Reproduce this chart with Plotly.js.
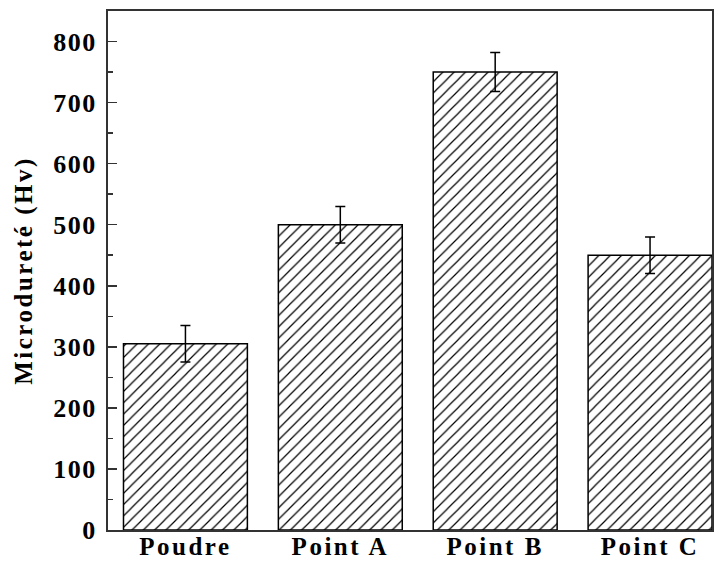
<!DOCTYPE html>
<html>
<head>
<meta charset="utf-8">
<script src="https://cdn.plot.ly/plotly-3.0.1.min.js"></script>
<style>
html,body{margin:0;padding:0;background:#fff;}
#chart .xtick text { letter-spacing: 2.5px; }
#chart .ytick text { letter-spacing: 1.5px; }
#chart .ytitle { letter-spacing: 2.5px; }
</style>
</head>
<body>
<div id="chart" style="width:715px;height:561px;"></div>
<script>
const categories = ["Poudre", "Point A", "Point B", "Point C"];
const hardness = [305, 500, 750, 450];
const hardnessErr = [30, 30, 32, 30];
const yTickVals = [0, 100, 200, 300, 400, 500, 600, 700, 800];
const yTitle = "Microdureté (Hv)";

const fontFamily = "'Liberation Serif', 'Times New Roman', serif";

const trace = {
  type: "bar",
  x: categories,
  y: hardness,
  width: 0.8,
  marker: {
    color: "#ffffff",
    line: { color: "#000000", width: 1.5 },
    pattern: { shape: "/", size: 8, solidity: 0.15, fgcolor: "#000000", bgcolor: "#ffffff" }
  },
  error_y: { type: "data", array: hardnessErr, visible: true, color: "#000000", thickness: 1.5, width: 5 },
  hoverinfo: "x+y"
};

const layout = {
  width: 715,
  height: 561,
  margin: { l: 108, r: 3, t: 11, b: 31, pad: 0 },
  paper_bgcolor: "#ffffff",
  plot_bgcolor: "#ffffff",
  showlegend: false,
  bargap: 0.2,
  xaxis: {
    type: "category",
    range: [-0.5, 3.4],
    showline: true,
    linecolor: "#333333",
    linewidth: 2,
    mirror: true,
    ticks: "",
    showgrid: false,
    zeroline: false,
    ticklabelstandoff: -7,
    tickfont: { family: fontFamily, size: 25, weight: "bold", color: "#000000" }
  },
  yaxis: {
    range: [0, 850],
    tickvals: yTickVals,
    showline: true,
    linecolor: "#333333",
    linewidth: 2,
    mirror: true,
    ticks: "inside",
    ticklen: 9,
    tickwidth: 1.5,
    tickcolor: "#333333",
    minor: { ticks: "inside", ticklen: 5, tickwidth: 1.5, tickcolor: "#333333", dtick: 50, showgrid: false },
    showgrid: false,
    zeroline: false,
    ticklabelstandoff: 4,
    tickfont: { family: fontFamily, size: 26, weight: "bold", color: "#000000" },
    title: { text: yTitle, font: { family: fontFamily, size: 25, weight: "bold", color: "#000000" }, standoff: 18 }
  }
};

Plotly.newPlot("chart", [trace], layout, { displayModeBar: false, staticPlot: true });
</script>
</body>
</html>
